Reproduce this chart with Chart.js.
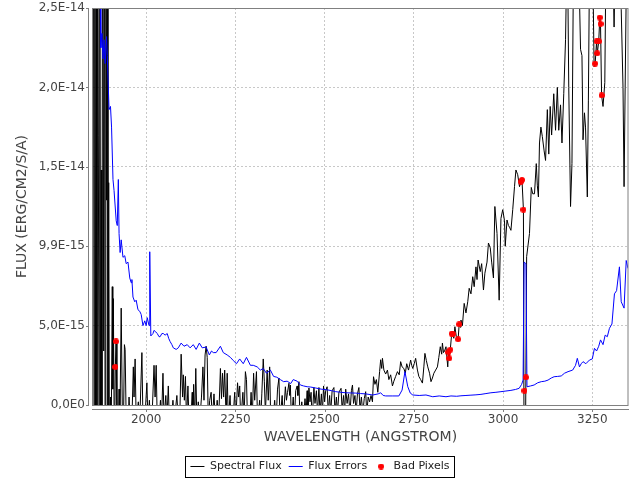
<!DOCTYPE html>
<html>
<head>
<meta charset="utf-8">
<script src="https://cdn.jsdelivr.net/npm/chart.js@4.4.0/dist/chart.umd.min.js"></script>
<style>
  html, body { margin: 0; padding: 0; background: #fff; }
</style>
</head>
<body>
<canvas id="spectrum" width="640" height="480"></canvas>
<script>
// flux values are in units of 1E-15 erg/cm2/s/A
const xTicks = [2000, 2250, 2500, 2750, 3000, 3250];
const yTicks = [0, 5, 10, 15, 20, 25];
const yTickLabels = ['0,0E0', '5,0E-15', '9,9E-15', '1,5E-14', '2,0E-14', '2,5E-14'];

// [wavelength, flux]
const spectralFlux = [
  [1852, 40], [1854, -5], [1856, 40], [1858, -5], [1860, 40], [1862, -5], [1864, 40], [1866, 17],
  [1868, -5], [1870, 40], [1872, -3], [1874, 14.8], [1876, -3], [1878, 40], [1881, 3.4], [1883, 40],
  [1885, -5], [1887, 40], [1889, 12.9], [1891, 40], [1893, -5], [1895, 14], [1897, -3], [1900, 0.5],
  [1902, -2], [1905, 7.45], [1906.5, 1], [1908, 6.7], [1910, 0], [1912, -1], [1913.6, 2.4], [1915.6, 4.0],
  [1918, 0], [1921, -3], [1924, 1.0], [1926, -2], [1930, 6.1], [1933, 0], [1936, -2], [1939, 3.8],
  [1941, 3.5], [1944, -1], [1948, -2], [1952, 0.5], [1955, -1], [1960, -1], [1964, 2.4], [1966, 0.5],
  [1969, 2.9], [1972, -1], [1978, 0.2], [1982, -1], [1988, 3.3], [1991, -1], [1996, -1], [2002, 1.4],
  [2005, -1], [2009, 0.3], [2012, -1], [2016, -1], [2022, 2.5], [2025, 0.5], [2028, 2.5], [2031, -1],
  [2036, -1], [2040, 0.3], [2043, -1], [2047, 2.0], [2050, -1], [2055, 0.6], [2058, -1], [2062, 1.2],
  [2065, -1], [2070, -1], [2075, 0.3], [2079, -1], [2086, 0.6], [2090, -1], [2094, -1], [2098, 3.2],
  [2102, 0.5], [2104, 1.9], [2107, 0.3], [2110, 1.8], [2113, -1], [2117, 1.2], [2120, -1], [2125, -1],
  [2129, 0.8], [2131, -1], [2133, 1.3], [2136, -1], [2139, 2.3], [2142, -1], [2146, 0.2], [2150, -1],
  [2155, 0.5], [2159, 2.4], [2162, 0.3], [2165, 3.15], [2168, 3.7], [2171, 3.0], [2174, -1], [2178, 0.3],
  [2182, 0.8], [2185, -1], [2190, 0.7], [2194, -1], [2199, 0.3], [2203, -1], [2208, 2.3], [2211, 0.4],
  [2214, 2.0], [2217, 0.5], [2220, 2.2], [2224, -1], [2227, 2.0], [2230, -1], [2235, 0.6], [2238, -1],
  [2243, -1], [2248, 0.8], [2251, -1], [2256, 1.4], [2259, 0.5], [2262, 1.2], [2265, -1], [2271, 0.8],
  [2274, -1], [2278, 2.1], [2281, 1.6], [2284, -1], [2290, -1], [2294, 0.8], [2297, -1], [2301, 2.0],
  [2304, 0.3], [2309, 2.1], [2312, -1], [2318, 0.3], [2321, -1], [2324, 0.7], [2328, 2.9], [2331, 1.5],
  [2334, -0.5], [2339, 2.2], [2342, 0.3], [2346, 2.4], [2349, -1], [2355, -1], [2360, 0.3], [2364, -1],
  [2368, 1.0], [2372, 1.7], [2375, -1], [2381, 0.6], [2384, -1], [2390, 1.15], [2393, 0.3], [2396, 0.8],
  [2400, 1.37], [2402, 0.6], [2404, 1.26], [2407, -1], [2412, 0.5], [2415, -1], [2419, 0.9], [2423, 1.2],
  [2425, 0.6], [2428, 1.47], [2431, -1], [2436, 0.2], [2440, -1], [2445, 0.4], [2448, -0.5], [2451, 0.9],
  [2453, -1], [2456, 1.07], [2459, 0.2], [2462, 0.8], [2465, -1], [2470, 1.1], [2473, 0.1], [2477, 0.9],
  [2480, -0.5], [2484, 1.1], [2487, -0.5], [2491, 0.7], [2494, -0.5], [2497, 1.2], [2500, 0.2], [2503, 0.9],
  [2507, 1.15], [2510, -0.5], [2514, 0.6], [2517, -0.5], [2521, 0.9], [2526, 1.1], [2529, -0.5], [2533, 0.5],
  [2536, -0.5], [2540, 0.8], [2546, 1.05], [2549, -0.3], [2553, 0.6], [2556, -0.5], [2559, 1.0], [2563, 0.1],
  [2567, 0.7], [2571, -0.5], [2575, 0.9], [2578, 1.26], [2581, 0.1], [2585, 0.6], [2588, -0.5], [2592, 0.7],
  [2596, 1.1], [2599, -0.3], [2603, 0.5], [2607, -0.5], [2611, 0.4], [2615, 0.84], [2618, -0.5], [2622, 0.5],
  [2626, 0.2], [2630, 0.6], [2634, 0.2], [2637, 1.78], [2641, 1.3], [2645, 1.6], [2649, 0.8], [2654, 2.1],
  [2657, 2.85], [2660, 2.3], [2662, 2.94], [2666, 2.2], [2671, 1.95], [2676, 2.2], [2680, 1.6], [2685, 1.9],
  [2690, 1.2], [2694, 1.5], [2699, 1.8], [2704, 2.1], [2709, 1.9], [2713, 2.73], [2717, 2.4], [2722, 2.3],
  [2726, 2.0], [2730, 2.6], [2735, 2.2], [2741, 2.83], [2744, 2.5], [2747, 2.3], [2751, 2.6], [2755, 2.94],
  [2760, 2.2], [2764, 1.8], [2769, 1.6], [2774, 1.38], [2778, 2.4], [2781, 3.25], [2785, 2.8], [2789, 2.4],
  [2794, 2.0], [2798, 1.47], [2802, 1.7], [2806, 2.0], [2811, 2.2], [2816, 2.4], [2820, 3.0], [2824, 3.67],
  [2828, 3.2], [2830, 3.9], [2833, 3.3], [2836, 3.4], [2840, 3.67], [2845, 2.4], [2847, 3.32], [2849, 2.94],
  [2852, 3.48], [2856, 4.49], [2859, 4.47], [2862, 4.2], [2865, 4.93], [2869, 4.3], [2874, 4.14], [2877, 5.08],
  [2880, 4.9], [2882, 5.35], [2886, 5.0], [2891, 6.4], [2896, 5.8], [2901, 6.5], [2905, 7.35], [2910, 7.0],
  [2915, 8.08], [2919, 7.45], [2924, 8.7], [2927, 7.9], [2930, 9.13], [2936, 8.4], [2940, 8.9], [2945, 7.24],
  [2949, 8.3], [2955, 9.0], [2959, 10.2], [2964, 9.9], [2968, 9.0], [2973, 8.0], [2977, 12.5], [2983, 10.8],
  [2989, 6.6], [2994, 11.75], [2999, 12.3], [3004, 11.6], [3006, 10.0], [3011, 11.65], [3015, 11.3], [3018, 11.2],
  [3022, 11.0], [3027, 12.3], [3032, 13.75], [3036, 14.8], [3041, 14.5], [3046, 13.75], [3050, 14.06], [3053, 14.17],
  [3057, 12.3], [3059, -5], [3062, -5], [3066, 9.34], [3074, 10.8], [3079, 13.7], [3083, 13.3], [3088, 13.3],
  [3093, 15.2], [3096, 13.8], [3099, 13.1], [3102, 16.5], [3106, 17.5], [3110, 16.9], [3115, 16.0], [3119, 15.4],
  [3124, 18.6], [3128, 15.8], [3132, 18.8], [3136, 17.0], [3142, 19.6], [3147, 17.3], [3152, 20.0], [3156, 17.3],
  [3161, 18.9], [3165, 16.5], [3170, 19.6], [3175, 23.0], [3180, 30], [3184, 20], [3189, 12.5], [3193, 15.2],
  [3198, 30], [3205, 30], [3210, 30], [3217, 22.4], [3221, 22.0], [3224, 16.7], [3228, 18.4], [3231, 17.5],
  [3236, 13.1], [3239, 19.2], [3243, 30], [3250, 30], [3255, 21.3], [3258, 21.5], [3262, 22.9], [3264, 22.15],
  [3268, 22.9], [3271, 24.4], [3273, 24.0], [3276, 19.5], [3280, 18.8], [3285, 20.3], [3289, 30], [3295, 30],
  [3300, 30], [3306, 30], [3311, 23.8], [3316, 30], [3322, 30], [3327, 30], [3331, 24.9], [3336, 20],
  [3339, 13.75], [3342, 20], [3347, 30], [3351, 30]
];

const fluxErrors = [
  [1855, 40], [1866, 32], [1871, 26], [1873, 22.5], [1876, 23.4], [1879, 21.8], [1882, 23.0], [1885, 21.5],
  [1889, 23.2], [1891, 22.0], [1896, 18.6], [1900, 18.8], [1903, 17.5], [1907, 14.2], [1910, 13.5], [1916, 11.6],
  [1919, 11.3], [1922, 14.2], [1924, 10.8], [1927, 9.6], [1930, 10.4], [1935, 9.3], [1940, 9.4], [1944, 8.9],
  [1949, 9.0], [1954, 8.0], [1958, 7.7], [1960, 7.9], [1963, 6.8], [1968, 6.5], [1972, 6.6], [1977, 6.0],
  [1982, 5.9], [1986, 5.7], [1991, 5.0], [1996, 5.3], [2000, 5.0], [2003, 5.5], [2008, 5.0], [2010, 9.65],
  [2013, 4.35], [2019, 4.5], [2022, 4.7], [2027, 4.6], [2031, 4.5], [2036, 4.3], [2039, 4.3], [2044, 4.5],
  [2048, 4.5], [2053, 4.4], [2059, 4.5], [2063, 4.2], [2067, 4.0], [2072, 3.8], [2076, 3.6], [2084, 3.5],
  [2090, 3.6], [2098, 3.9], [2106, 3.7], [2115, 3.8], [2123, 3.6], [2132, 3.8], [2140, 3.5], [2149, 3.9],
  [2157, 3.6], [2168, 3.65], [2177, 3.15], [2183, 3.4], [2188, 3.3], [2196, 3.3], [2208, 3.7], [2216, 3.3],
  [2227, 3.15], [2236, 3.0], [2244, 2.8], [2253, 2.6], [2262, 2.9], [2272, 2.6], [2281, 3.0], [2292, 2.5],
  [2300, 2.5], [2311, 2.4], [2320, 2.2], [2328, 2.3], [2337, 2.0], [2348, 2.2], [2357, 1.8], [2366, 1.75],
  [2376, 1.6], [2385, 1.47], [2395, 1.5], [2405, 1.35], [2412, 1.6], [2423, 1.5], [2432, 1.26], [2441, 1.2],
  [2451, 1.15], [2461, 1.13], [2475, 1.07], [2490, 1.0], [2508, 0.95], [2520, 0.9], [2531, 0.84], [2545, 0.8],
  [2559, 0.77], [2573, 0.76], [2587, 0.75], [2601, 0.72], [2615, 0.7], [2635, 0.63], [2650, 0.7], [2657, 0.77],
  [2664, 0.6], [2671, 0.57], [2691, 0.57], [2708, 0.57], [2717, 0.94], [2725, 2.1], [2733, 1.15], [2740, 0.75],
  [2747, 0.63], [2765, 0.6], [2784, 0.63], [2803, 0.52], [2821, 0.57], [2840, 0.52], [2854, 0.57], [2870, 0.55],
  [2882, 0.58], [2896, 0.6], [2910, 0.62], [2924, 0.64], [2938, 0.67], [2952, 0.72], [2966, 0.77], [2980, 0.8],
  [2994, 0.84], [3008, 0.88], [3022, 0.92], [3035, 0.98], [3045, 1.05], [3052, 1.3], [3056, 1.57], [3059, 9.0],
  [3064, 8.9], [3067, 1.15], [3077, 1.2], [3087, 1.26], [3097, 1.4], [3107, 1.47], [3117, 1.5], [3126, 1.57],
  [3135, 1.7], [3143, 1.78], [3153, 1.8], [3163, 1.83], [3172, 2.0], [3182, 2.1], [3195, 2.2], [3203, 2.5],
  [3208, 2.94], [3214, 2.4], [3219, 2.6], [3224, 2.73], [3232, 2.6], [3242, 2.83], [3250, 2.9], [3256, 3.57],
  [3262, 3.4], [3268, 3.7], [3273, 4.1], [3280, 3.8], [3286, 4.4], [3292, 4.3], [3298, 4.83], [3305, 5.1],
  [3312, 7.0], [3318, 7.2], [3326, 8.7], [3331, 6.5], [3339, 6.1], [3345, 9.1], [3350, 8.6]
];

const badPixels = [
  [1913.6, 2.4], [1915.6, 4.0], [2847, 3.32], [2849, 2.94], [2852, 3.48], [2856, 4.49], [2859, 4.47],
  [2874, 4.14], [2877, 5.08], [3050, 14.06], [3053, 14.17], [3057, 12.3], [3060, 0.9], [3064, 1.74],
  [3258, 21.5], [3262, 22.9], [3264, 22.15], [3268, 22.9], [3271, 24.4], [3273, 24.0], [3276, 19.5]
];

const toPoints = rows => rows.map(([x, y]) => ({ x, y }));

// small red dot used both for the points and the legend
function makeDot(r, color) {
  const c = document.createElement('canvas');
  c.width = c.height = r * 2;
  const g = c.getContext('2d');
  g.fillStyle = color;
  g.beginPath();
  g.arc(r, r, r, 0, Math.PI * 2);
  g.fill();
  return c;
}
const redDot = makeDot(3, '#ff0000');

// plot outline, offset axis lines, tick marks and a box round the legend
const plotFrame = {
  id: 'plotFrame',
  afterDraw(chart) {
    const { ctx, chartArea: a, scales } = chart;
    ctx.save();
    ctx.lineWidth = 1;
    ctx.strokeStyle = '#808080';
    ctx.strokeRect(a.left - 0.5, a.top + 0.5, a.right - a.left + 0.5, a.bottom - a.top);
    ctx.beginPath();
    ctx.moveTo(a.left - 4.5, a.top);
    ctx.lineTo(a.left - 4.5, a.bottom + 1);
    ctx.moveTo(a.left - 1, a.bottom + 4.5);
    ctx.lineTo(a.right + 1, a.bottom + 4.5);
    yTicks.forEach(v => {
      const py = Math.round(scales.y.getPixelForValue(v)) + 0.5;
      ctx.moveTo(a.left - 7, py);
      ctx.lineTo(a.left - 4, py);
    });
    xTicks.forEach(v => {
      const px = Math.round(scales.x.getPixelForValue(v)) + 0.5;
      ctx.moveTo(px, a.bottom + 4);
      ctx.lineTo(px, a.bottom + 7);
    });
    ctx.stroke();

    const boxes = chart.legend.legendHitBoxes;
    if (boxes && boxes.length) {
      const first = boxes[0];
      const last = boxes[boxes.length - 1];
      const cy = first.top + first.height / 2;
      const left = Math.round(first.left) - 4.5;
      const right = Math.round(last.left + last.width) + 4.5;
      ctx.strokeStyle = '#000';
      ctx.strokeRect(left, Math.round(cy - 10.5) + 0.5, right - left, 21);
    }
    ctx.restore();
  }
};

Chart.defaults.font.family = '"DejaVu Sans", sans-serif';
Chart.defaults.color = '#444';

new Chart(document.getElementById('spectrum'), {
  type: 'line',
  data: {
    datasets: [
      {
        label: 'Bad Pixels',
        data: toPoints(badPixels),
        showLine: false,
        pointStyle: redDot,
        pointRadius: 3,
        backgroundColor: '#ff0000',
        borderColor: '#ff0000'
      },
      {
        label: 'Flux Errors',
        data: toPoints(fluxErrors),
        borderColor: '#0000ff',
        backgroundColor: '#0000ff',
        borderWidth: 1,
        pointRadius: 0,
        pointStyle: 'line',
        tension: 0
      },
      {
        label: 'Spectral Flux',
        data: toPoints(spectralFlux),
        borderColor: '#000000',
        backgroundColor: '#000000',
        borderWidth: 1,
        pointRadius: 0,
        pointStyle: 'line',
        tension: 0
      }
    ]
  },
  options: {
    responsive: false,
    animation: false,
    layout: { padding: { left: 12, right: 12, top: 8, bottom: -2 } },
    scales: {
      x: {
        type: 'linear',
        min: 1851,
        max: 3350,
        afterBuildTicks: s => { s.ticks = xTicks.map(v => ({ value: v })); },
        afterFit: s => { s.height = 49; },
        grid: { color: '#c8c8c8', drawTicks: false },
        border: { display: false, dash: [2, 2] },
        ticks: { padding: 8, font: { size: 12 }, color: '#444', callback: v => String(v), maxRotation: 0 },
        title: { display: true, text: 'WAVELENGTH (ANGSTROM)', font: { size: 14 }, color: '#444', padding: { top: 2, bottom: 8 } }
      },
      y: {
        min: 0,
        max: 25,
        afterBuildTicks: s => { s.ticks = yTicks.map(v => ({ value: v })); },
        afterFit: s => { s.width = 81; s.paddingTop = 0; s.paddingBottom = 0; },
        grid: { color: '#c8c8c8', drawTicks: false },
        border: { display: false, dash: [2, 2] },
        ticks: { padding: 8, font: { size: 12 }, color: '#444', callback: v => yTickLabels[yTicks.indexOf(v)] },
        title: { display: true, text: 'FLUX (ERG/CM2/S/A)', font: { size: 14 }, color: '#444', padding: { top: 2, bottom: 0 } }
      }
    },
    plugins: {
      legend: {
        position: 'bottom',
        labels: {
          usePointStyle: true,
          pointStyleWidth: 14,
          boxHeight: 6,
          padding: 7,
          color: '#222',
          font: { size: 11 },
          sort: (a, b) => b.datasetIndex - a.datasetIndex
        }
      },
      tooltip: { enabled: false }
    }
  },
  plugins: [plotFrame]
});
</script>
</body>
</html>
